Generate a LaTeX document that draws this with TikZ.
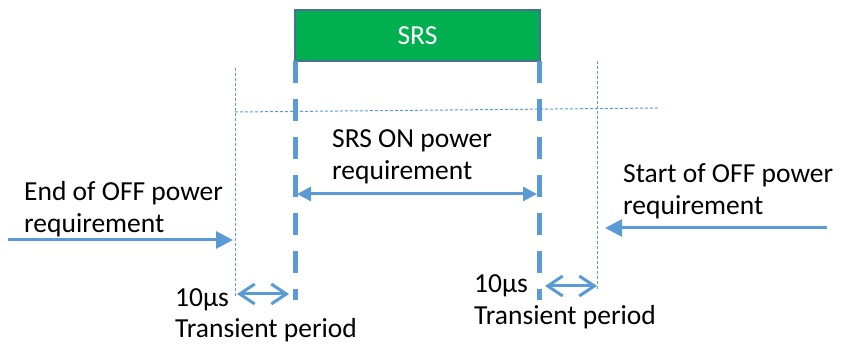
\documentclass[tikz,border=0pt]{standalone}
\usepackage{fontspec}
\setmainfont{Carlito}
\usetikzlibrary{arrows.meta}

\definecolor{srsgreen}{HTML}{00B050}
\definecolor{srsedge}{HTML}{4A6F94}
\definecolor{lineblue}{HTML}{5B9BD5}

\tikzset{
  txt/.style={anchor=base west, inner sep=0pt, align=left, font=\fontsize{27.5}{32}\selectfont},
  bound/.style={lineblue, line width=5pt, dash pattern=on 22pt off 16pt},
  guide/.style={lineblue, line width=1pt, dash pattern=on 3pt off 2pt},
  longarrow/.style={lineblue, line width=3pt, -{Triangle[length=17pt,width=17pt]}},
  onarrow/.style={lineblue, line width=3pt, {Triangle[length=14pt,width=14pt]}-{Triangle[length=14pt,width=14pt]}},
  gaparrow/.style={lineblue, line width=3pt, {Straight Barb[length=15pt,width=20pt]}-{Straight Barb[length=15pt,width=20pt]}}
}

\begin{document}
\begin{tikzpicture}[x=1pt, y=-1pt]
    \useasboundingbox (0,0) rectangle (841,347);

    % SRS block
    \node[draw=srsedge, line width=2.5pt, fill=srsgreen, text=white,
          minimum width=245pt, minimum height=51pt, inner sep=0pt,
          font=\fontsize{27.5}{32}\selectfont] (srs) at (417.5,35.5) {SRS};

    % guide lines
    \coordinate (offL) at (235,68);
    \coordinate (offLb) at (235,296);
    \coordinate (offR) at (597,61);
    \coordinate (offRb) at (597,291);
    \coordinate (lvlL) at (235,112);
    \coordinate (lvlR) at (660,108);
    \draw[guide] (offL) -- (offLb);
    \draw[guide] (offR) -- (offRb);
    \draw[guide] (lvlL) -- (lvlR);

    % SRS boundaries
    \coordinate (onL) at (295,61);
    \coordinate (onLb) at (295,300);
    \coordinate (onR) at (539,61);
    \coordinate (onRb) at (539,300);
    \draw[bound] (onL) -- (onLb);
    \draw[bound] (onR) -- (onRb);

    % power requirement arrows
    \coordinate (onA) at (297,194);
    \coordinate (onB) at (537,194);
    \draw[onarrow] (onA) -- (onB);
    \node[txt] (ontext) at (332,180) {SRS ON power\\requirement};

    \coordinate (endA) at (8,240);
    \coordinate (endB) at (233,240);
    \draw[longarrow] (endA) -- (endB);
    \node[txt] (endtext) at (24,233) {End of OFF power\\requirement};

    \coordinate (startA) at (827,228);
    \coordinate (startB) at (605,228);
    \draw[longarrow] (startA) -- (startB);
    \node[txt] (starttext) at (623,215) {Start of OFF power\\requirement};

    % transient periods
    \coordinate (trLa) at (237,294);
    \coordinate (trLb) at (289,294);
    \draw[gaparrow] (trLa) -- (trLb);
    \node[txt] (trLtext) at (175,338) {10µs\\Transient period};

    \coordinate (trRa) at (545,286);
    \coordinate (trRb) at (597,286);
    \draw[gaparrow] (trRa) -- (trRb);
    \node[txt] (trRtext) at (474,325) {10µs\\Transient period};
\end{tikzpicture}
\end{document}
